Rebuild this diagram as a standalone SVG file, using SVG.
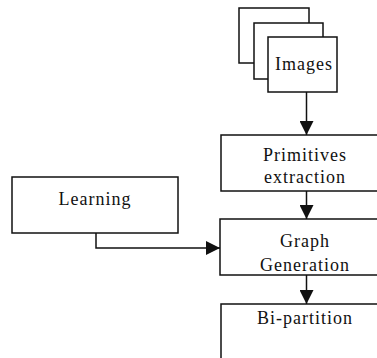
<svg xmlns="http://www.w3.org/2000/svg" width="377" height="358" viewBox="0 0 377 358">
<style>
.box{fill:#fff;stroke:#111;stroke-width:1.5}
.t{font-family:"Liberation Serif","Times New Roman",serif;font-size:18px;letter-spacing:1px;fill:#111;text-anchor:middle}
.c{fill:none;stroke:#111;stroke-width:1.5}
</style>
<defs>
<marker id="ah" markerWidth="14" markerHeight="14" refX="14" refY="7" orient="auto" markerUnits="userSpaceOnUse">
<path d="M0,0 L14,7 L0,14 Z" fill="#111"/>
</marker>
</defs>
<rect width="377" height="358" fill="#fff"/>
<g id="connectors">
<line class="c" x1="306.5" y1="92" x2="306.5" y2="135" marker-end="url(#ah)"/>
<line class="c" x1="306.5" y1="191" x2="306.5" y2="219" marker-end="url(#ah)"/>
<line class="c" x1="306.5" y1="275" x2="306.5" y2="304" marker-end="url(#ah)"/>
<polyline class="c" points="96,233 96,248 220,248" marker-end="url(#ah)"/>
</g>
<g id="images">
<rect class="box" x="239" y="8" width="70" height="55"/>
<rect class="box" x="254" y="23" width="69" height="56"/>
<rect class="box" x="268" y="37" width="69" height="55"/>
<text class="t" x="304" y="70">Images</text>
</g>
<g id="primitives">
<rect class="box" x="221" y="135" width="172" height="56"/>
<text class="t" x="305" y="161">Primitives</text>
<text class="t" x="305" y="183">extraction</text>
</g>
<g id="learning">
<rect class="box" x="12" y="177" width="166" height="56"/>
<text class="t" x="95" y="205">Learning</text>
</g>
<g id="graph">
<rect class="box" x="220" y="219" width="173" height="56"/>
<text class="t" x="305" y="247">Graph</text>
<text class="t" x="305" y="271">Generation</text>
</g>
<g id="bipartition">
<rect class="box" x="221" y="304" width="172" height="70"/>
<text class="t" x="305" y="324">Bi-partition</text>
</g>
</svg>
